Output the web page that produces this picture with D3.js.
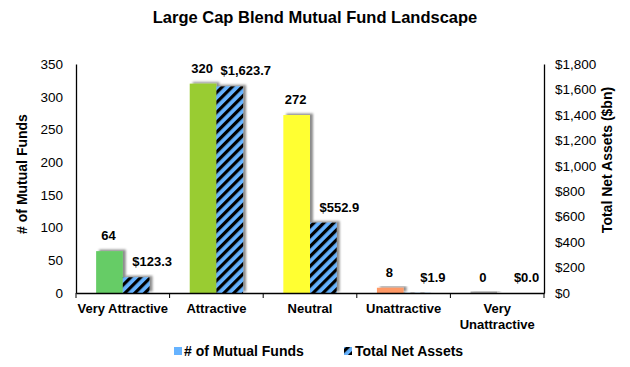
<!DOCTYPE html>
<html><head><meta charset="utf-8">
<script src="https://cdn.jsdelivr.net/npm/d3@7"></script>
<style>body{margin:0;background:#fff}svg{display:block;font-family:"Liberation Sans",Arial,sans-serif}</style>
</head><body><svg id="c" width="630" height="367"></svg>
<script>
const categories = ["Very Attractive","Attractive","Neutral","Unattractive","Very Unattractive"];
const fundCounts = [64,320,272,8,0];
const netAssets = [123.3,1623.7,552.9,1.9,0.0];
const fundColors = ["#66cc66","#99cc33","#ffff33","#ff9966","#a6a6a6"];
const leftTicks = [0,50,100,150,200,250,300,350];
const rightTicks = [0,200,400,600,800,1000,1200,1400,1600,1800];
const seriesNames = ["# of Mutual Funds","Total Net Assets"];

const svg = d3.select("#c");
const m = {l:76, r:544, t:64, b:293};
const defs = svg.append("defs");
const pat = defs.append("pattern").attr("id","hatch").attr("patternUnits","userSpaceOnUse")
  .attr("width",7).attr("height",7).attr("patternTransform","rotate(45)");
pat.append("rect").attr("width",7).attr("height",7).attr("fill","#66b3ff");
pat.append("rect").attr("width",3.2).attr("height",7).attr("fill","#000");
const f = defs.append("filter").attr("id","sh").attr("x","-20%").attr("y","-20%").attr("width","150%").attr("height","150%");
f.append("feDropShadow").attr("dx",3).attr("dy",-1.5).attr("stdDeviation",1).attr("flood-color","#000").attr("flood-opacity",0.45);

const x = d3.scaleBand().domain(categories).range([m.l,m.r]).paddingInner(0).paddingOuter(0);
const yL = d3.scaleLinear().domain([0,350]).range([m.b,m.t]);
const yR = d3.scaleLinear().domain([0,1800]).range([m.b,m.t]);
const bw = x.bandwidth()*0.285;

svg.append("text").attr("x",315).attr("y",23).attr("text-anchor","middle")
  .attr("font-size",16.5).attr("font-weight","bold").text("Large Cap Blend Mutual Fund Landscape");

// bars
const g = svg.append("g");
categories.forEach((c,i)=>{
  const cx = x(c)+x.bandwidth()/2;
  const hL = Math.max(1.5,yL(0)-yL(fundCounts[i]));
  g.append("rect").attr("x",cx-bw).attr("y",yL(0)-hL).attr("width",bw)
    .attr("height",hL).attr("fill",fundColors[i]).attr("filter","url(#sh)");
  g.append("rect").attr("x",cx).attr("y",yR(netAssets[i])).attr("width",bw)
    .attr("height",Math.max(0.01,yR(0)-yR(netAssets[i]))).attr("fill","url(#hatch)").attr("filter","url(#sh)");
  g.append("text").attr("x",cx-bw/2-1).attr("y",yL(fundCounts[i])-11).attr("text-anchor","middle")
    .attr("font-size",13).attr("font-weight","bold").text(d3.format(",")(fundCounts[i]));
  g.append("text").attr("x",cx+bw/2+16).attr("y",yR(netAssets[i])-11).attr("text-anchor","middle")
    .attr("font-size",13).attr("font-weight","bold").text("$"+d3.format(",.1f")(netAssets[i]));
});

// axes
const ax = svg.append("g").attr("transform",`translate(0,${m.b})`)
  .call(d3.axisBottom(x).tickSize(0).tickFormat(""));
ax.select(".domain").attr("stroke","#000").attr("stroke-width",1.3);
x.domain().concat([null]).forEach((c,i)=>{
  const xx = c===null ? m.r : x(c);
  svg.append("line").attr("x1",xx).attr("x2",xx).attr("y1",m.b).attr("y2",m.b+5).attr("stroke","#000");
});
categories.forEach(c=>{
  const t = svg.append("text").attr("x",x(c)+x.bandwidth()/2).attr("y",313).attr("text-anchor","middle")
    .attr("font-size",13).attr("font-weight","bold");
  const words = c==="Very Unattractive" ? ["Very","Unattractive"] : [c];
  words.forEach((w,k)=>t.append("tspan").attr("x",x(c)+x.bandwidth()/2).attr("dy",k?16:0).text(w));
});
const la = svg.append("g").attr("transform",`translate(${m.l},0)`)
  .call(d3.axisLeft(yL).tickValues(leftTicks).tickSize(0).tickPadding(13));
la.select(".domain").attr("stroke","#000").attr("stroke-width",1.3);
la.selectAll("text").attr("font-size",13.5).attr("font-family","Liberation Sans, Arial").attr("fill","#000");
const ra = svg.append("g").attr("transform",`translate(${m.r},0)`)
  .call(d3.axisRight(yR).tickValues(rightTicks).tickSize(0).tickPadding(11).tickFormat(d=>"$"+d3.format(",")(d)));
ra.select(".domain").attr("stroke","#000").attr("stroke-width",1.3);
ra.selectAll("text").attr("font-size",13.5).attr("font-family","Liberation Sans, Arial").attr("fill","#000");

svg.append("text").attr("transform","translate(27,174) rotate(-90)").attr("text-anchor","middle")
  .attr("font-size",14).attr("font-weight","bold").text("# of Mutual Funds");
svg.append("text").attr("transform","translate(612,160) rotate(-90)").attr("text-anchor","middle")
  .attr("font-size",14).attr("font-weight","bold").text("Total Net Assets ($bn)");

// legend
const lg = svg.append("g");
lg.append("rect").attr("x",174).attr("y",347).attr("width",8).attr("height",8).attr("fill","#66b3ff");
lg.append("text").attr("x",184).attr("y",356).attr("font-size",14).attr("font-weight","bold").text(seriesNames[0]);
lg.append("rect").attr("x",344).attr("y",347).attr("width",8).attr("height",8).attr("fill","url(#hatch)");
lg.append("text").attr("x",355).attr("y",356).attr("font-size",14).attr("font-weight","bold").text(seriesNames[1]);
</script></body></html>
